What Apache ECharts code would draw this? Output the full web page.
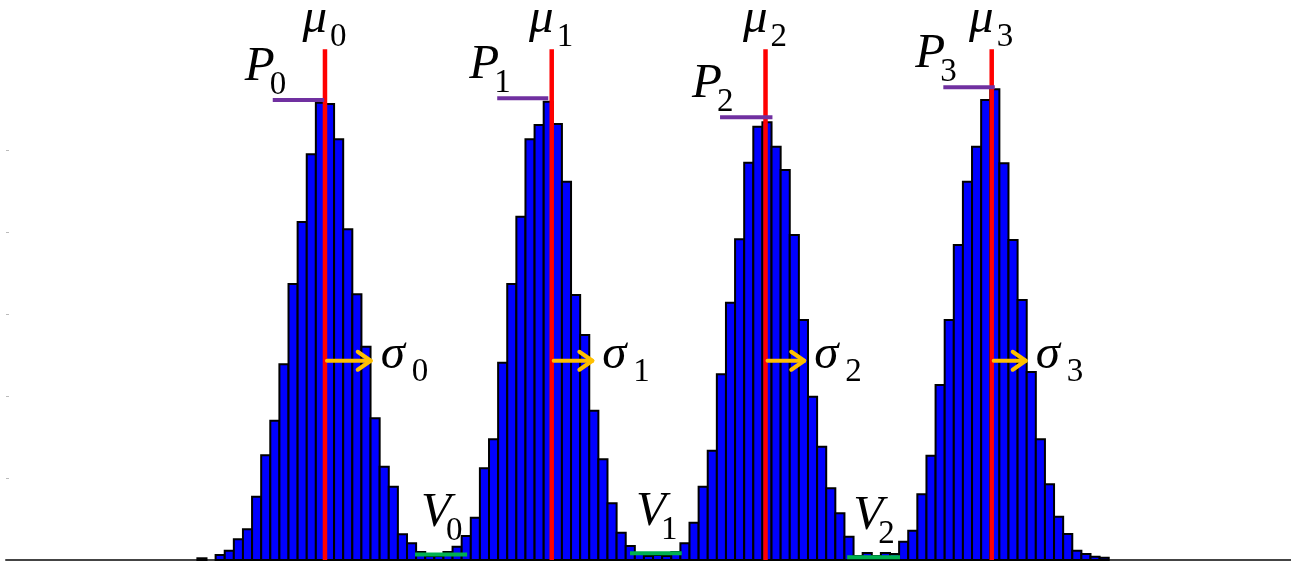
<!DOCTYPE html>
<html><head><meta charset="utf-8">
<script src="https://cdn.jsdelivr.net/npm/echarts@6/dist/echarts.min.js"></script>
<style>html,body{margin:0;padding:0;background:#fff}#c{width:1291px;height:566px}</style>
</head><body><div id="c"></div>
<script>
// ---- data ----
const binCount = 141;      // histogram bins spanning the axis
const firstBin = 21;       // index of the first bin in counts
const counts = [
  2.1, 0, 6.1, 11.3, 25.2, 37.4, 77.2, 127.7, 169.9, 238.7,
  336.6, 412.2, 494.8, 557.7, 556.1, 513.0, 403.3, 324.0, 260.1, 172.8,
  113.8, 89.4, 31.3, 20.4, 9.8, 4.9, 4.9, 9.8, 16.2, 29.3,
  51.6, 111.8, 147.2, 240.6, 336.6, 418.7, 513.0, 530.5, 558.9, 531.7,
  461.3, 323.2, 274.4, 182.1, 122.8, 69.1, 33.3, 17.1, 8.5, 4.9,
  6.1, 4.9, 9.8, 20.4, 45.5, 89.4, 133.3, 226.5, 313.8, 391.1,
  484.5, 528.4, 533.8, 504.0, 475.6, 396.3, 292.7, 199.1, 138.2, 87.4,
  57.0, 28.4, 4.9, 8.5, 4.9, 8.5, 7.3, 22.3, 35.7, 80.1,
  127.2, 213.4, 292.7, 384.1, 461.3, 504.0, 561.0, 574.0, 483.8, 390.2,
  317.1, 229.3, 147.2, 92.3, 52.8, 31.7, 11.3, 7.3, 4.0, 2.8
];
const muX = [35.0, 59.88, 83.34, 108.16];        // means (bin units)
const muTop = 623;                                 // height of mean markers
const sigma = [5.13, 4.57, 4.36, 3.84];           // spread markers (bin units)
const sigmaLevel = 243;                            // height of sigma arrows
const peakFrom = [29.27, 53.9, 78.35, 102.85];
const peakTo = [34.9, 59.5, 84.1, 108.5];
const peakVal = [561, 563, 540, 576.5];
const valleyFrom = [44.88, 68.47, 92.3];
const valleyTo = [50.6, 74.15, 98.1];
const valleyVal = [6.7, 8.3, 3.4];
const subs = ['0', '1', '2', '3'];
const yTicks = [100, 200, 300, 400, 500];

// ---- styles ----
const MAIN_FONT = 'italic 49px "Liberation Serif"';
const SUB_FONT = '33px "Liberation Serif"';

function txt(t, x, y, font, align) {
  return {type: 'text', style: {text: t, x: x, y: y, font: font, fill: '#000', align: align, verticalAlign: 'middle'}};
}

const histData = counts.map((c, i) => [firstBin + i, c]);

const option = {
  animation: false,
  grid: {left: 6, right: 0, top: 68, bottom: 6},
  xAxis: {
    type: 'value', min: 0, max: binCount,
    axisLine: {show: true, lineStyle: {color: '#444', width: 2}},
    axisTick: {show: false}, axisLabel: {show: false}, splitLine: {show: false}
  },
  yAxis: {
    type: 'value', min: 0, max: 600, interval: 100,
    axisLine: {show: false}, axisLabel: {show: false}, splitLine: {show: false},
    axisTick: {show: true, inside: true, length: 3, customValues: yTicks, lineStyle: {color: '#bbb', width: 1}}
  },
  series: [
    {
      type: 'custom', data: histData, clip: false,
      renderItem(params, api) {
        const b = api.value(0), v = api.value(1);
        if (!v) return null;
        const p0 = api.coord([b, v]);
        const p1 = api.coord([b + 1, 0]);
        return {type: 'rect', shape: {x: p0[0], y: p0[1], width: p1[0] - p0[0], height: p1[1] - p0[1]},
          style: {fill: '#0000FF', stroke: '#000', lineWidth: 2}};
      }
    },
    {
      type: 'custom', data: muX.map(x => [x, muTop]), clip: false,
      renderItem(params, api) {
        const i = params.dataIndex;
        const top = api.coord([api.value(0), api.value(1)]);
        const bot = api.coord([api.value(0), 0]);
        return {type: 'group', children: [
          {type: 'line', shape: {x1: top[0], y1: top[1], x2: bot[0], y2: bot[1]}, style: {stroke: '#FF0000', lineWidth: 4.5}},
          txt('μ', top[0] + 2, top[1] - 30, MAIN_FONT, 'right'),
          txt(subs[i], top[0] + 5, top[1] - 12, SUB_FONT, 'left')
        ]};
      }
    },
    {
      type: 'custom', data: peakFrom.map((x, i) => [x, peakVal[i], peakTo[i]]), clip: false,
      renderItem(params, api) {
        const i = params.dataIndex;
        const a = api.coord([api.value(0), api.value(1)]);
        const b = api.coord([api.value(2), api.value(1)]);
        return {type: 'group', children: [
          {type: 'line', shape: {x1: a[0], y1: a[1], x2: b[0], y2: b[1]}, style: {stroke: '#7030A0', lineWidth: 4}},
          txt('P', a[0] - 28, a[1] - 33, MAIN_FONT, 'left'),
          txt(subs[i], a[0] - 3, a[1] - 15, SUB_FONT, 'left')
        ]};
      }
    },
    {
      type: 'custom', data: valleyFrom.map((x, i) => [x, valleyVal[i], valleyTo[i]]), clip: false,
      renderItem(params, api) {
        const i = params.dataIndex;
        const a = api.coord([api.value(0), api.value(1)]);
        const b = api.coord([api.value(2), api.value(1)]);
        return {type: 'group', children: [
          {type: 'line', shape: {x1: a[0], y1: a[1], x2: b[0], y2: b[1]}, style: {stroke: '#00B050', lineWidth: 4}},
          txt('V', a[0] + 6, a[1] - 41, MAIN_FONT, 'left'),
          txt(subs[i], a[0] + 31, a[1] - 23, SUB_FONT, 'left')
        ]};
      }
    },
    {
      type: 'custom', data: muX.map((x, i) => [x, sigmaLevel, x + sigma[i]]), clip: false,
      renderItem(params, api) {
        const i = params.dataIndex;
        const a = api.coord([api.value(0), api.value(1)]);
        const b = api.coord([api.value(2), api.value(1)]);
        const st = {stroke: '#FFC000', lineWidth: 4, lineCap: 'round', lineJoin: 'round', fill: null};
        return {type: 'group', children: [
          {type: 'line', shape: {x1: a[0] + 2, y1: a[1], x2: b[0] - 1, y2: b[1]}, style: st},
          {type: 'polyline', shape: {points: [[b[0] - 14, b[1] - 9], [b[0] - 1, b[1]], [b[0] - 14, b[1] + 9]]}, style: st},
          txt('σ', b[0] + 9, b[1] - 6, MAIN_FONT, 'left'),
          txt(subs[i], b[0] + 40, b[1] + 12, SUB_FONT, 'left')
        ]};
      }
    }
  ]
};

const chart = echarts.init(document.getElementById('c'), null, {renderer: 'canvas'});
chart.setOption(option);
</script>
</body></html>
